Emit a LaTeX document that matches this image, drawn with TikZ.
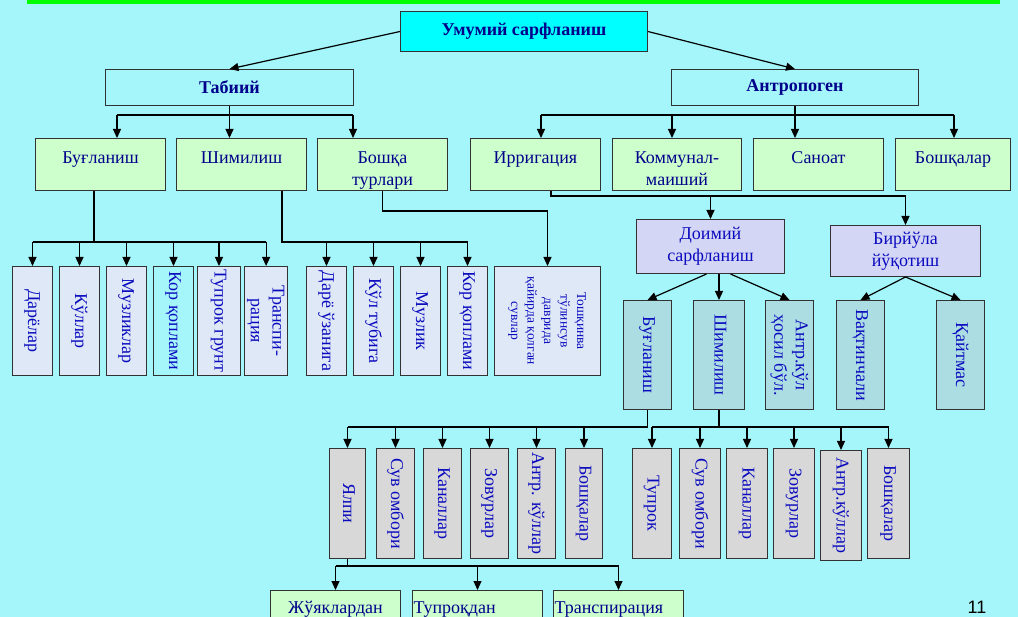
\documentclass[tikz,border=0pt]{standalone}
\usepackage{fontspec}
\setmainfont{Liberation Serif}
\newfontfamily\pagefont{Liberation Sans}
\usepackage{graphicx}
\usetikzlibrary{arrows.meta}

\definecolor{bgcol}{RGB}{164,246,250}
\definecolor{topbar}{RGB}{0,255,0}
\definecolor{cyanbox}{RGB}{0,255,255}
\definecolor{greenfill}{RGB}{204,255,204}
\definecolor{paleblue}{RGB}{222,232,246}
\definecolor{lavender}{RGB}{212,214,245}
\definecolor{tealfill}{RGB}{172,221,227}
\definecolor{greyfill}{RGB}{216,216,216}
\definecolor{navy}{RGB}{0,0,139}
\definecolor{vblue}{RGB}{10,10,190}
\definecolor{boxline}{RGB}{50,50,50}

\newcommand{\vtext}[1]{\rotatebox{-90}{\begin{tabular}{@{}c@{}}#1\end{tabular}}}
\newcommand{\toptext}[2]{\parbox[c][52pt][t]{#1}{\centering\rule{0pt}{25pt}#2}}
\newcommand{\lowtext}[2]{\parbox[c][35pt][t]{130pt}{#1\rule{0pt}{23pt}#2}}

\tikzset{
  headbox/.style={draw=boxline, line width=1pt, anchor=north west, text=navy,
    font=\fontsize{18}{21.6}\selectfont\bfseries},
  kindbox/.style={draw=boxline, line width=1pt, fill=greenfill, anchor=north west,
    inner sep=0pt, text=navy, font=\fontsize{18}{21.6}\selectfont},
  colbox/.style={draw=boxline, line width=1pt, anchor=north west, inner sep=0pt,
    text=vblue, font=\fontsize{18}{21.6}\selectfont},
  arr/.style={-{Triangle[length=9pt,width=8pt]}, line width=1.2pt},
  link/.style={line width=1.2pt},
}

\begin{document}
\begin{tikzpicture}[x=1pt,y=-1pt]
  \useasboundingbox (0,0) rectangle (1018,617);
  \clip (0,0) rectangle (1018,617);
  \fill[bgcol] (0,0) rectangle (1018,617);
  \fill[topbar] (27,0) rectangle (1000,4);

  % top
  \node[headbox, fill=cyanbox, minimum width=247pt, minimum height=40pt] (sarf) at (400,11) {Умумий сарфланиш};
  \node[headbox, minimum width=248pt, minimum height=36pt] (tabiy) at (105,69) {Табиий};
  \node[headbox, minimum width=247pt, minimum height=36pt] (antro) at (671,69) {Антропоген};

  % second row
  \node[kindbox] (bug1) at (35,138) {\toptext{130pt}{Буғланиш}};
  \node[kindbox] (shim1) at (176,138) {\toptext{130pt}{Шимилиш}};
  \node[kindbox] (boshqa) at (317,138) {\toptext{130pt}{Бошқа\\турлари}};
  \node[kindbox] (irrig) at (470,138) {\toptext{130pt}{Ирригация}};
  \node[kindbox] (kommun) at (612,138) {\toptext{129pt}{Коммунал-\\маиший}};
  \node[kindbox] (sanoat) at (753,138) {\toptext{130pt}{Саноат}};
  \node[kindbox] (boshq2) at (895,138) {\toptext{115pt}{Бошқалар}};

  % natural losses
  \node[colbox, fill=paleblue, minimum width=40pt, minimum height=109pt] (daryo) at (12,266) {\vtext{Дарёлар}};
  \node[colbox, fill=paleblue, minimum width=40pt, minimum height=109pt] (kul) at (59,266) {\vtext{Кўллар}};
  \node[colbox, fill=paleblue, minimum width=40pt, minimum height=109pt] (muzl) at (106,266) {\vtext{Музликлар}};
  \node[colbox, minimum width=40pt, minimum height=109pt] (korq1) at (153,266) {\vtext{Кор қоплами}};
  \node[colbox, fill=paleblue, minimum width=43pt, minimum height=109pt] (tuproq1) at (197,266) {\vtext{Тупрок грунт}};
  \node[colbox, fill=paleblue, minimum width=43pt, minimum height=109pt] (transp1) at (244,266) {\vtext{Транспи-\\рация}};
  \node[colbox, fill=paleblue, minimum width=40pt, minimum height=109pt] (dare) at (306,266) {\vtext{Дарё ўзанига}};
  \node[colbox, fill=paleblue, minimum width=40pt, minimum height=109pt] (kult) at (353,266) {\vtext{Кўл тубига}};
  \node[colbox, fill=paleblue, minimum width=40pt, minimum height=109pt] (muzlik) at (400,266) {\vtext{Музлик}};
  \node[colbox, fill=paleblue, minimum width=40pt, minimum height=109pt] (korq2) at (447,266) {\vtext{Кор қоплами}};
  \node[colbox, fill=paleblue, minimum width=106pt, minimum height=109pt,
    font=\fontsize{13.5}{16.5}\selectfont] (toshq) at (494,266) {\vtext{Тошқинва\\тўлинсув\\даврида\\қайирда қолган\\сувлар}};

  % irrigation losses
  \node[colbox, fill=lavender, minimum width=148pt, minimum height=54pt, align=center] (doim) at (636,219) {Доимий\\сарфланиш};
  \node[colbox, fill=lavender, minimum width=150pt, minimum height=51pt, align=center] (biryu) at (830,225) {Бирйўла\\йўқотиш};
  \node[colbox, fill=tealfill, minimum width=48pt, minimum height=109pt] (bug2) at (623,300) {\vtext{Буғланиш}};
  \node[colbox, fill=tealfill, minimum width=51pt, minimum height=109pt] (shim2) at (693,300) {\vtext{Шимилиш}};
  \node[colbox, fill=tealfill, minimum width=48pt, minimum height=109pt] (antrk) at (765,300) {\vtext{Антр.кўл\\ҳосил бўл.}};
  \node[colbox, fill=tealfill, minimum width=48pt, minimum height=109pt] (vaqt) at (836,300) {\vtext{Вақтинчали}};
  \node[colbox, fill=tealfill, minimum width=48pt, minimum height=109pt] (qayt) at (936,300) {\vtext{Қайтмас}};

  \node[colbox, fill=greyfill, minimum width=36pt, minimum height=110pt] (yalpi) at (329,448) {\vtext{Ялпи}};
  \node[colbox, fill=greyfill, minimum width=38pt, minimum height=110pt] (suv1) at (376,448) {\vtext{Сув омбори}};
  \node[colbox, fill=greyfill, minimum width=38pt, minimum height=110pt] (kanal1) at (423,448) {\vtext{Каналлар}};
  \node[colbox, fill=greyfill, minimum width=38pt, minimum height=110pt] (zovur1) at (470,448) {\vtext{Зовурлар}};
  \node[colbox, fill=greyfill, minimum width=38pt, minimum height=110pt] (antr1) at (517,448) {\vtext{Антр. кўллар}};
  \node[colbox, fill=greyfill, minimum width=37pt, minimum height=110pt] (bosh1) at (565,448) {\vtext{Бошқалар}};
  \node[colbox, fill=greyfill, minimum width=39pt, minimum height=110pt] (tupr2) at (632,448) {\vtext{Тупрок}};
  \node[colbox, fill=greyfill, minimum width=41pt, minimum height=110pt] (suv2) at (679,448) {\vtext{Сув омбори}};
  \node[colbox, fill=greyfill, minimum width=41pt, minimum height=110pt] (kanal2) at (726,448) {\vtext{Каналлар}};
  \node[colbox, fill=greyfill, minimum width=41pt, minimum height=110pt] (zovur2) at (773,448) {\vtext{Зовурлар}};
  \node[colbox, fill=greyfill, minimum width=41pt, minimum height=110pt] (antr2) at (820,450) {\vtext{Антр.кўллар}};
  \node[colbox, fill=greyfill, minimum width=42pt, minimum height=110pt] (bosh2) at (867,448) {\vtext{Бошқалар}};

  \node[kindbox] (juyak) at (270,590) {\lowtext{\centering}{Жўяклардан}};
  \node[kindbox] (tuprd) at (412,590) {\lowtext{\raggedright}{\hspace{1pt}Тупроқдан}};
  \node[kindbox] (transp2) at (553,590) {\lowtext{\raggedright}{\hspace{1pt}Транспирация}};

  \node[anchor=north, inner sep=0pt, font=\pagefont\fontsize{18}{21.6}\selectfont] (pnum) at (977,601) {11};

  % connectors
  \draw[arr] (sarf.west) -- (tabiy.north);
  \draw[arr] (sarf.east) -- (antro.north);

  \coordinate (tL) at (117,115);
  \coordinate (tR) at (353,115);
  \draw[link] (tL) -- (tR);
  \draw[arr] (tabiy.south) -- (tabiy.south |- shim1.north);
  \draw[arr] (tL) -- (tL |- bug1.north);
  \draw[arr] (tR) -- (tR |- boshqa.north);

  \coordinate (aL) at (541,115);
  \coordinate (aK) at (672,115);
  \coordinate (aR) at (954,115);
  \draw[link] (aL) -- (aR);
  \draw[arr] (antro.south) -- (antro.south |- sanoat.north);
  \draw[arr] (aL) -- (aL |- irrig.north);
  \draw[arr] (aK) -- (aK |- kommun.north);
  \draw[arr] (aR) -- (aR |- boshq2.north);

  \coordinate (bb) at (94,242);
  \draw[link] (bb |- bug1.south) -- (bb);
  \draw[link] (daryo.north |- bb) -- (transp1.north |- bb);
  \foreach \n in {daryo,kul,muzl,korq1,tuproq1,transp1}
    \draw[arr] (\n.north |- bb) -- (\n.north);

  \coordinate (sb) at (282,242);
  \draw[link] (sb |- shim1.south) -- (sb) -- (korq2.north |- sb);
  \foreach \n in {dare,kult,muzlik,korq2}
    \draw[arr] (\n.north |- sb) -- (\n.north);

  \draw[arr] (boshqa.south) -- ++(0,20) -| (toshq.north);

  \coordinate (ib) at (551,196);
  \draw[link] (ib |- irrig.south) -- (ib) -- (biryu.north |- ib);
  \draw[arr] (doim.north |- ib) -- (doim.north);
  \draw[arr] (biryu.north |- ib) -- (biryu.north);

  \draw[arr] ([xshift=-4pt]doim.south) -- (bug2.north);
  \draw[arr] (doim.south -| shim2.north) -- (shim2.north);
  \draw[arr] ([xshift=20pt]doim.south) -- (antrk.north);
  \draw[arr] (biryu.south) -- (vaqt.north);
  \draw[arr] (biryu.south) -- (qayt.north);

  \coordinate (lb) at (0,427);
  \draw[link] (bug2.south) -- (bug2.south |- lb) -- (yalpi.north |- lb);
  \foreach \n in {yalpi,suv1,kanal1,zovur1,antr1,bosh1}
    \draw[arr] (\n.north |- lb) -- (\n.north);
  \draw[link] (shim2.south) -- (shim2.south |- lb);
  \draw[link] (tupr2.north |- lb) -- (bosh2.north |- lb);
  \foreach \n in {tupr2,suv2,kanal2,zovur2,antr2,bosh2}
    \draw[arr] (\n.north |- lb) -- (\n.north);

  \coordinate (yb) at (0,566);
  \draw[link] (yalpi.south) -- (yalpi.south |- yb);
  \draw[link] (juyak.north |- yb) -- (transp2.north |- yb);
  \foreach \n in {juyak,tuprd,transp2}
    \draw[arr] (\n.north |- yb) -- (\n.north);
\end{tikzpicture}
\end{document}
